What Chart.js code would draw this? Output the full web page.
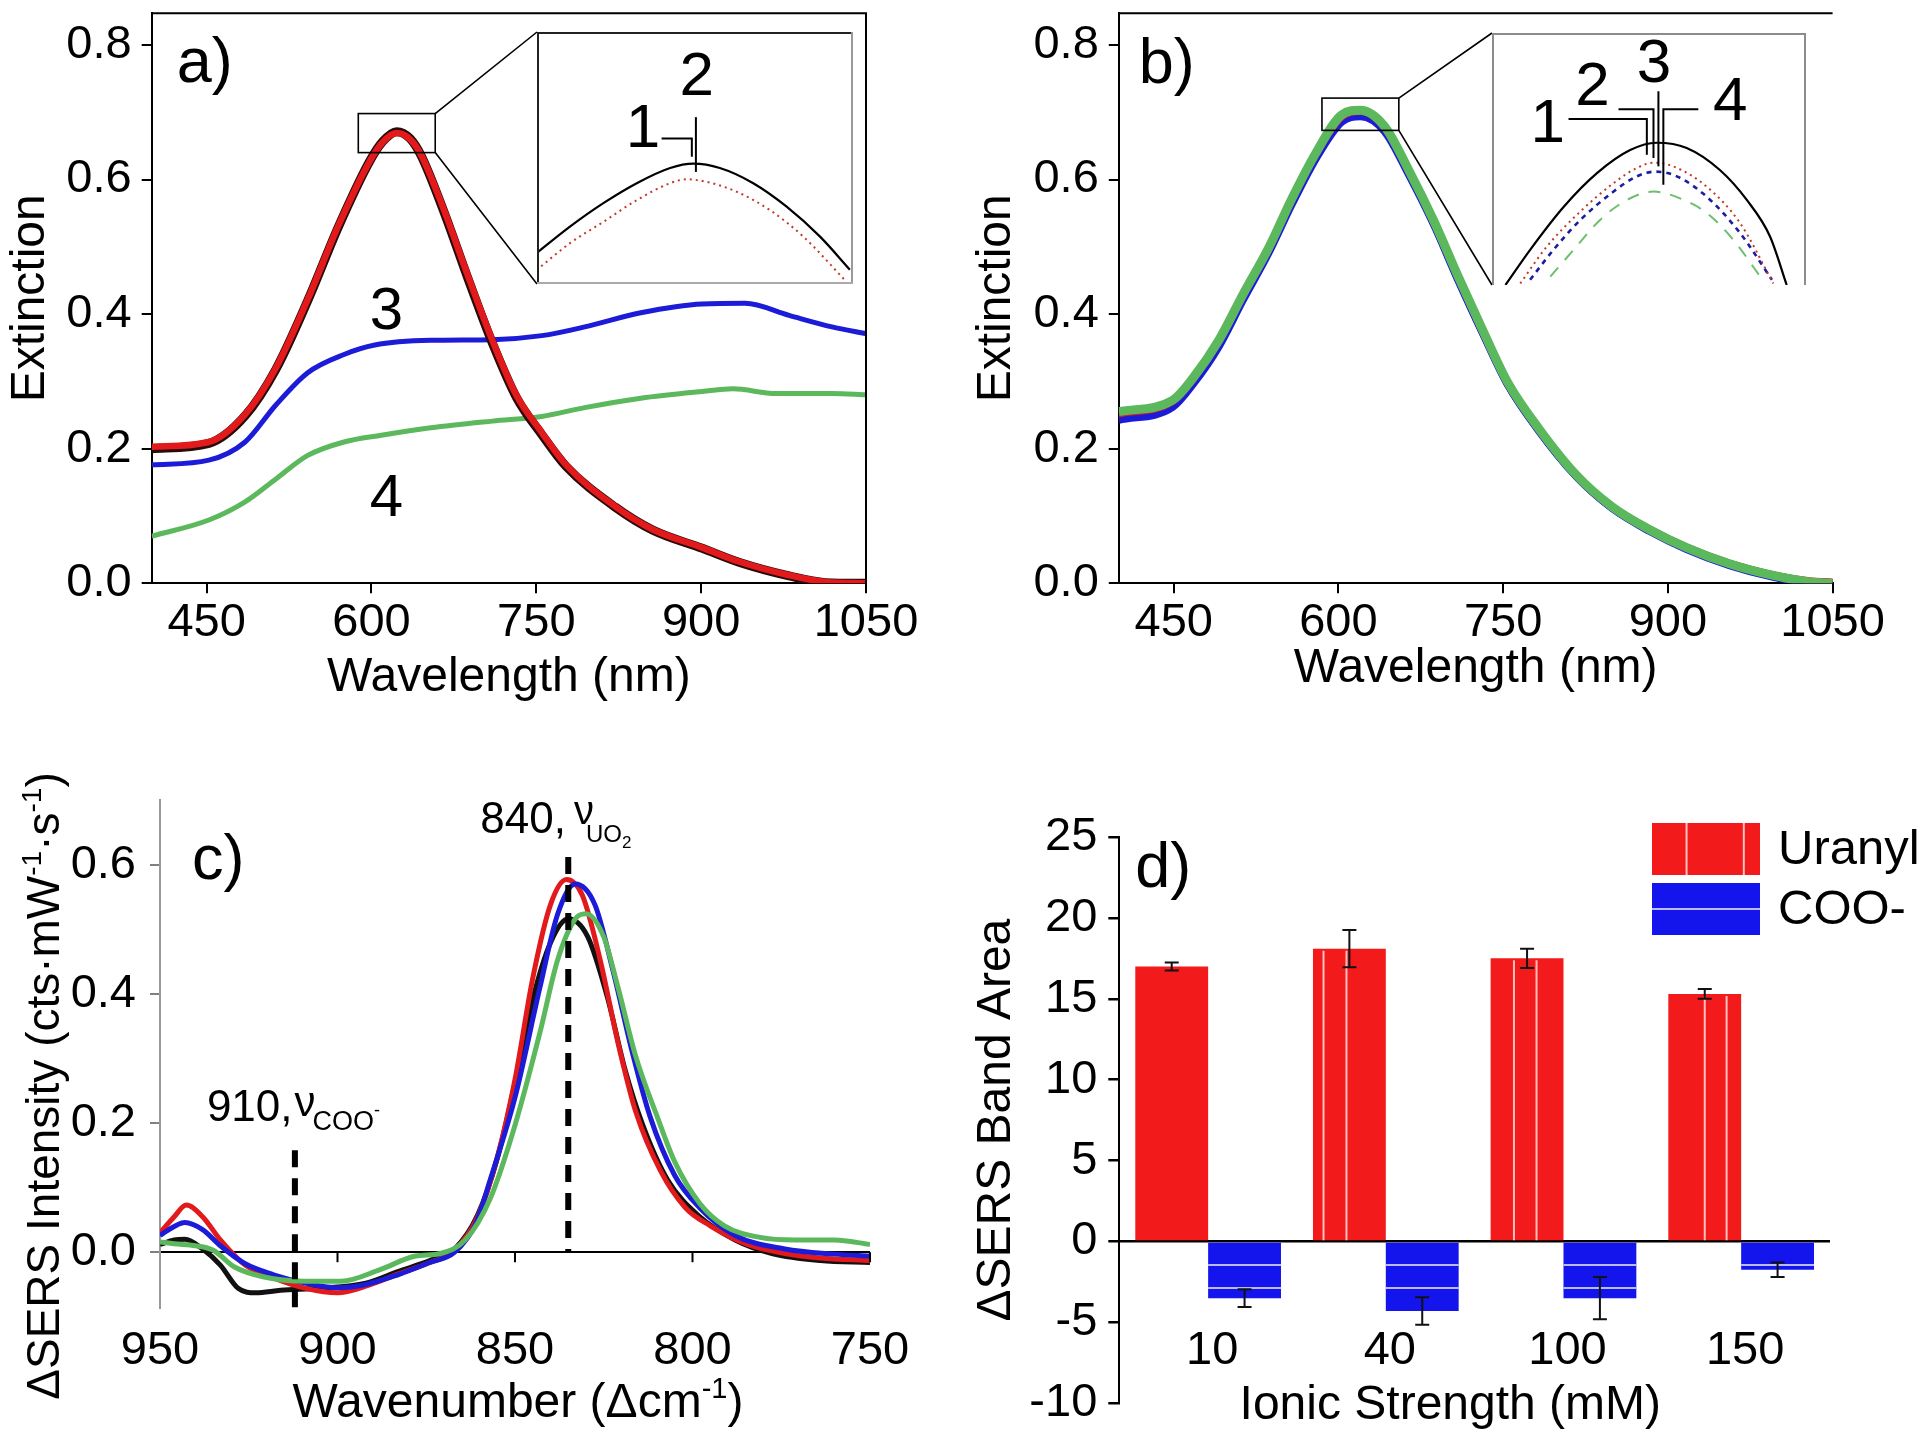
<!DOCTYPE html>
<html><head><meta charset="utf-8"><title>Extinction and SERS panels</title>
<script src="https://cdn.jsdelivr.net/npm/chart.js"></script>
<style>
html,body{margin:0;padding:0;background:#fff}
body{width:1920px;height:1442px;position:relative;overflow:hidden}
canvas{position:absolute;display:block}
</style></head><body>
<script>
// ================= DATA =================
// Panel a: extinction spectra (curves 1-4)
const waveA_12 = [400,452,485,513,542,570,598,610,623,635,645,665,688,710,732,755,777,822,856,901,935,980,1013,1050];
const extA_1 = [0.200,0.208,0.249,0.318,0.420,0.530,0.626,0.656,0.671,0.661,0.636,0.556,0.452,0.357,0.276,0.221,0.174,0.113,0.079,0.052,0.031,0.011,0.001,0.000];
const extA_2 = [0.203,0.210,0.251,0.320,0.422,0.532,0.626,0.655,0.669,0.660,0.637,0.559,0.456,0.361,0.279,0.224,0.176,0.114,0.080,0.053,0.032,0.012,0.002,0.000];
const waveA_3 = [400,452,485,513,542,575,603,654,710,755,794,845,901,940,980,1019,1050];
const extA_3 = [0.176,0.183,0.210,0.265,0.313,0.340,0.354,0.361,0.362,0.368,0.381,0.402,0.415,0.416,0.398,0.381,0.371];
const waveA_4 = [400,452,485,513,542,575,609,654,710,755,794,845,901,929,968,1019,1050];
const extA_4 = [0.070,0.094,0.121,0.155,0.190,0.210,0.220,0.231,0.241,0.248,0.261,0.275,0.285,0.289,0.282,0.282,0.280];
// Panel a inset (zoom of peak, curves 1 and 2)
const insetA_wave1 = [587.9,595.3,602.7,610.1,617.5,622.6,628.5,635.9,643.3,650.7,657.3];
const insetA_ext1 = [0.6471,0.6532,0.6586,0.6632,0.6667,0.6677,0.6667,0.6632,0.6578,0.6509,0.6433];
const insetA_wave2 = [587.9,595.3,602.7,610.1,617.5,621.2,625.6,632.3,639.6,647.0,656.2];
const insetA_ext2 = [0.6432,0.6494,0.6543,0.6593,0.6632,0.6641,0.6635,0.6612,0.6570,0.6509,0.6409];
const zoomA_wave = [588,658];
const zoomA_ext = [0.640,0.698];

// Panel b: extinction spectra (curves 1-4)
const waveB = [400,449,468,491,513,536,558,580,603,620,642,664,687,709,732,754,782,816,849,883,917,956,995,1029,1050];
const extB_1 = [0.250,0.268,0.302,0.357,0.425,0.494,0.569,0.637,0.691,0.699,0.675,0.610,0.535,0.453,0.371,0.297,0.229,0.161,0.113,0.080,0.053,0.029,0.012,0.002,0.000];
const extB_2 = [0.252,0.270,0.304,0.359,0.427,0.495,0.571,0.639,0.693,0.701,0.677,0.612,0.536,0.454,0.372,0.298,0.230,0.162,0.114,0.081,0.054,0.030,0.013,0.004,0.002];
const extB_3 = [0.243,0.262,0.297,0.352,0.421,0.490,0.565,0.633,0.686,0.694,0.672,0.608,0.533,0.451,0.370,0.296,0.228,0.160,0.112,0.078,0.051,0.027,0.010,0.001,0.000];
const extB_4 = [0.255,0.272,0.306,0.361,0.429,0.497,0.573,0.641,0.696,0.703,0.679,0.614,0.538,0.456,0.374,0.299,0.231,0.162,0.114,0.080,0.053,0.029,0.012,0.002,0.000];
// Panel b inset
const insetB_wave1 = [588.0,593.5,601.0,608.4,615.8,621.7,628.4,635.8,641.8,647.0,650.7];
const insetB_ext1 = [0.6730,0.6797,0.6879,0.6943,0.6987,0.7001,0.6991,0.6949,0.6892,0.6822,0.6730];
const insetB_wave2 = [591.3,597.2,604.7,612.1,617.3,621.0,625.4,632.9,640.3,647.7];
const insetB_ext2 = [0.6733,0.6803,0.6870,0.6924,0.6953,0.6963,0.6956,0.6917,0.6848,0.6733];
const insetB_wave3 = [593.5,598.7,604.7,612.1,617.3,621.4,626.2,632.9,640.3,647.4];
const insetB_ext3 = [0.6740,0.6797,0.6854,0.6908,0.6937,0.6946,0.6937,0.6898,0.6829,0.6740];
const insetB_wave4 = [598.0,603.2,609.1,615.1,621.0,626.9,632.9,638.8,644.8];
const insetB_ext4 = [0.6746,0.6797,0.6854,0.6892,0.6908,0.6895,0.6867,0.6816,0.6746];
const zoomB_wave = [585,655];
const zoomB_ext = [0.673,0.721];

// Panel c: difference SERS spectra
const waveC_1 = [950,946,943,938,933,928,923,916,905,892,883,874,867,860.5,855,850,845,840,835,829.5,824,819,814,807,798,788,777.6,764,750];
const intC_1 = [0.012,0.019,0.020,0.005,-0.020,-0.056,-0.063,-0.059,-0.056,-0.048,-0.030,-0.013,0.005,0.058,0.145,0.262,0.392,0.480,0.517,0.489,0.396,0.283,0.197,0.112,0.055,0.019,-0.002,-0.013,-0.016];
const waveC_2 = [950,946,942.6,938,933,926,917.5,909,900,891.6,883,874,867.4,860.5,855,850,845,840,835.5,831,826,821,816,809,802,795,784.5,774,764,750];
const intC_2 = [0.030,0.055,0.073,0.055,0.019,-0.020,-0.041,-0.056,-0.063,-0.052,-0.034,-0.016,0.001,0.055,0.147,0.268,0.425,0.539,0.578,0.553,0.453,0.325,0.218,0.126,0.069,0.041,0.012,-0.002,-0.009,-0.013];
const waveC_3 = [950,946,943,938,933,926,918,909,900,892,883,874,867,861,857,850,843,838,833,827.5,822.5,817,812,805,798,788,774,760,750];
const intC_3 = [0.026,0.040,0.046,0.035,0.010,-0.018,-0.035,-0.048,-0.055,-0.050,-0.035,-0.016,0.000,0.045,0.112,0.240,0.410,0.524,0.571,0.539,0.439,0.311,0.211,0.119,0.069,0.026,0.005,-0.003,-0.006];
const waveC_4 = [950,946,940,935,929,921,909,899,888,878,871,864,857,850,843,838,833,830,825,821,816,810,805,798,791,781,771,760,750];
const intC_4 = [0.016,0.013,0.010,0.003,-0.023,-0.038,-0.045,-0.045,-0.027,-0.006,-0.002,0.019,0.083,0.197,0.340,0.453,0.517,0.525,0.489,0.411,0.304,0.211,0.140,0.076,0.041,0.023,0.019,0.019,0.012];
const markerWave = [912, 835];
const markerTop = [0.158, 0.613];
const markerBottom = [-0.087, 0.0];

// Panel d: band areas
const ionicLabels = ['10','40','100','150'];
const uranylArea = [17.0, 18.1, 17.5, 15.3];
const uranylErr = [0.25, 1.15, 0.6, 0.3];
const cooArea = [-3.5, -4.3, -3.5, -1.75];
const cooErr = [0.55, 0.85, 1.3, 0.45];

// Tick labels
const extTicks = [0, 0.2, 0.4, 0.6, 0.8];
const waveTicks = [450, 600, 750, 900, 1050];
const wnTicks = [950, 900, 850, 800, 750];
const intTicks = [0, 0.2, 0.4, 0.6];
const areaTicks = [-10, -5, 0, 5, 10, 15, 20, 25];

// ================= LAYOUT / STYLE =================
const FONT = "'Liberation Sans', Arial, Helvetica, sans-serif";
Chart.defaults.font.family = FONT;
Chart.defaults.color = '#000';
const RED = '#e31a1c', BLUE = '#1c1cd8', GREEN = '#5cb85c', BLACK = '#111';
const PANEL = {a:{left:0,top:0,w:960,h:720}, b:{left:960,top:0,w:960,h:720}, c:{left:0,top:720,w:960,h:722}, d:{left:960,top:720,w:960,h:722}};
const INSET_A = {left:537, top:32, w:316, h:252};
const INSET_B = {left:1492, top:33, w:314, h:252};

function mkCanvas(box, z) {
  const c = document.createElement('canvas');
  c.width = box.w; c.height = box.h;
  c.style.left = box.left + 'px'; c.style.top = box.top + 'px';
  c.style.width = box.w + 'px'; c.style.height = box.h + 'px';
  c.style.zIndex = z;
  document.body.appendChild(c);
  return c;
}
function pts(xs, ys) { return xs.map((x, i) => ({x: x, y: ys[i]})); }
function lineDS(label, xs, ys, color, width, order, extra) {
  return Object.assign({label: label, data: pts(xs, ys), borderColor: color, backgroundColor: color,
    borderWidth: width, pointRadius: 0, fill: false, cubicInterpolationMode: 'monotone', order: order}, extra || {});
}
function ticksFrom(arr) { return function (scale) { scale.ticks = arr.map(v => ({value: v})); }; }
function fit(size, horiz) {
  return function (scale) {
    if (horiz) scale.height = size; else scale.width = size;
    scale.paddingTop = 0; scale.paddingBottom = 0; scale.paddingLeft = 0; scale.paddingRight = 0;
  };
}
function baseOpts(o) {
  return Object.assign({responsive: false, maintainAspectRatio: false, animation: false, devicePixelRatio: 1, events: [],
    plugins: {legend: {display: false}, tooltip: {enabled: false}}}, o);
}
function txt(ctx, s, x, y, size, align, base) {
  ctx.font = size + 'px ' + FONT; ctx.fillStyle = '#000';
  ctx.textAlign = align || 'left'; ctx.textBaseline = base || 'alphabetic';
  ctx.fillText(s, x, y);
}
function drawRich(ctx, parts, x, y, align) {
  let w = 0;
  parts.forEach(p => { ctx.font = p.size + 'px ' + FONT; p._w = ctx.measureText(p.t).width; w += p._w + (p.dx || 0); });
  let cx = align === 'center' ? x - w / 2 : x;
  ctx.textAlign = 'left'; ctx.textBaseline = 'alphabetic'; ctx.fillStyle = '#000';
  parts.forEach(p => { cx += (p.dx || 0); ctx.font = p.size + 'px ' + FONT; ctx.fillText(p.t, cx, y + (p.dy || 0)); cx += p._w; });
}
const axisX = (title, titlePad, ticksArr, height, min, max) => ({
  type: 'linear', min: min, max: max, afterBuildTicks: ticksFrom(ticksArr), afterFit: fit(height, true),
  border: {display: true, color: '#000', width: 2},
  grid: {drawOnChartArea: false, drawTicks: true, tickLength: 10, color: '#000', tickColor: '#000', lineWidth: 2},
  ticks: {font: {size: 47}, padding: 2, autoSkip: false, maxRotation: 0, color: '#000', callback: v => String(v)},
  title: {display: true, text: title, font: {size: 48}, color: '#000', padding: {top: 0, bottom: titlePad}}
});
const axisYExt = (titlePad) => ({
  min: 0, max: 0.847, afterBuildTicks: ticksFrom(extTicks), afterFit: fit(titlePad.width, false),
  border: {display: true, color: '#000', width: 2},
  grid: {drawOnChartArea: false, drawTicks: true, tickLength: 10, color: '#000', tickColor: '#000', lineWidth: 2},
  ticks: {font: {size: 47}, padding: 10, color: '#000', callback: v => Number(v).toFixed(1)},
  title: {display: true, text: 'Extinction', font: {size: 48}, color: '#000', padding: {top: titlePad.top, bottom: 0}}
});

// zoom rectangle + connector lines to the inset
function zoomDeco(chart, waveR, extR, inset, panel) {
  const {ctx, scales: {x, y}} = chart;
  const x1 = x.getPixelForValue(waveR[0]), x2 = x.getPixelForValue(waveR[1]);
  const y1 = y.getPixelForValue(extR[1]), y2 = y.getPixelForValue(extR[0]);
  const il = inset.left - panel.left, it = inset.top - panel.top, ib = it + inset.h;
  ctx.save(); ctx.strokeStyle = '#000'; ctx.lineWidth = 1.6;
  ctx.strokeRect(x1, y1, x2 - x1, y2 - y1);
  ctx.beginPath(); ctx.moveTo(x2, y1); ctx.lineTo(il, it); ctx.moveTo(x2, y2); ctx.lineTo(il, ib); ctx.stroke();
  ctx.restore();
}

// ================= PANEL a =================
const plugA = {id: 'decoA', afterDraw(chart) {
  const {ctx, chartArea: ca, scales: {x, y}} = chart;
  ctx.save(); ctx.strokeStyle = '#000'; ctx.lineWidth = 2;
  ctx.beginPath(); ctx.moveTo(ca.left, ca.top); ctx.lineTo(ca.right, ca.top); ctx.lineTo(ca.right, ca.bottom); ctx.stroke();
  txt(ctx, 'a)', ca.left + 25, ca.top + 69, 63);
  txt(ctx, '3', x.getPixelForValue(613.5), y.getPixelForValue(0.402), 60, 'center', 'middle');
  txt(ctx, '4', x.getPixelForValue(613.5), y.getPixelForValue(0.125), 60, 'center', 'middle');
  ctx.restore();
  zoomDeco(chart, zoomA_wave, zoomA_ext, INSET_A, PANEL.a);
}};
new Chart(mkCanvas(PANEL.a, 1), {
  type: 'line',
  data: {datasets: [
    lineDS('2', waveA_12, extA_2, RED, 6.5, 0),
    lineDS('1', waveA_12, extA_1, '#2a0a0a', 9, 1),
    lineDS('3', waveA_3, extA_3, BLUE, 5, 2),
    lineDS('4', waveA_4, extA_4, GREEN, 5, 3)
  ]},
  options: baseOpts({
    layout: {padding: {top: 13.3, right: 94, bottom: 0, left: 0}},
    scales: {x: axisX('Wavelength (nm)', 13, waveTicks, 136.7, 400, 1050), y: axisYExt({width: 151.7, top: 2})}
  }),
  plugins: [plugA]
});

// ================= PANEL b =================
const plugB = {id: 'decoB', afterDraw(chart) {
  const {ctx, chartArea: ca} = chart;
  ctx.save(); ctx.strokeStyle = '#000'; ctx.lineWidth = 2;
  ctx.beginPath(); ctx.moveTo(ca.left, ca.top); ctx.lineTo(ca.right, ca.top); ctx.stroke();
  txt(ctx, 'b)', ca.left + 20, ca.top + 70, 63);
  ctx.restore();
  zoomDeco(chart, zoomB_wave, zoomB_ext, INSET_B, PANEL.b);
}};
new Chart(mkCanvas(PANEL.b, 1), {
  type: 'line',
  data: {datasets: [
    lineDS('4', waveB, extB_4, GREEN, 9, 0),
    lineDS('2', waveB, extB_2, RED, 7, 1),
    lineDS('3', waveB, extB_3, BLUE, 8, 2),
    lineDS('1', waveB, extB_1, BLACK, 8, 3)
  ]},
  options: baseOpts({
    layout: {padding: {top: 13.3, right: 87.4, bottom: 0, left: 0}},
    scales: {x: axisX('Wavelength (nm)', 22, waveTicks, 136.7, 400, 1050), y: axisYExt({width: 158.8, top: 8})}
  }),
  plugins: [plugB]
});

// ================= INSETS =================
function insetPlugin(id, borders, leaders, labels) {
  return {id: id, afterDraw(chart) {
    const {ctx, chartArea: ca, scales: {x, y}} = chart;
    ctx.save(); ctx.lineWidth = 2;
    const edges = {top: [ca.left, ca.top + 1, ca.right, ca.top + 1], left: [ca.left + 1, ca.top, ca.left + 1, ca.bottom],
      right: [ca.right - 1, ca.top, ca.right - 1, ca.bottom], bottom: [ca.left, ca.bottom - 1, ca.right, ca.bottom - 1]};
    Object.keys(borders).forEach(k => { const e = edges[k]; ctx.strokeStyle = borders[k];
      ctx.beginPath(); ctx.moveTo(e[0], e[1]); ctx.lineTo(e[2], e[3]); ctx.stroke(); });
    ctx.strokeStyle = '#000'; ctx.lineWidth = 2;
    leaders.forEach(L => { ctx.beginPath(); L.forEach((p, i) => { const px = x.getPixelForValue(p[0]), py = y.getPixelForValue(p[1]);
      if (i === 0) ctx.moveTo(px, py); else ctx.lineTo(px, py); }); ctx.stroke(); });
    labels.forEach(l => txt(ctx, l.t, x.getPixelForValue(l.x), y.getPixelForValue(l.y), 62, 'center', 'middle'));
    ctx.restore();
  }};
}
function insetChart(box, datasets, xr, yr, plugin) {
  return new Chart(mkCanvas(box, 3), {
    type: 'line', data: {datasets: datasets},
    options: baseOpts({layout: {padding: 0}, scales: {x: {type: 'linear', display: false, min: xr[0], max: xr[1]}, y: {display: false, min: yr[0], max: yr[1]}}}),
    plugins: [plugin]
  });
}
insetChart(INSET_A, [
  lineDS('1', insetA_wave1, insetA_ext1, '#000', 2.2, 0, {clip: 0}),
  lineDS('2', insetA_wave2, insetA_ext2, '#c0392b', 2, 1, {clip: 0, borderDash: [2, 4]})
], zoomA_wave, zoomA_ext, insetPlugin('insA', {top: '#222', left: '#222', right: '#999', bottom: '#aaa'},
  [[[615.6, 0.6735], [622.3, 0.6735], [622.3, 0.6693]], [[623.2, 0.6784], [623.2, 0.6658]]],
  [{t: '1', x: 611.5, y: 0.6754}, {t: '2', x: 623.4, y: 0.6875}]));
insetChart(INSET_B, [
  lineDS('1', insetB_wave1, insetB_ext1, '#000', 2.2, 0, {clip: 0}),
  lineDS('2', insetB_wave2, insetB_ext2, '#c0392b', 2, 1, {clip: 0, borderDash: [2, 4]}),
  lineDS('3', insetB_wave3, insetB_ext3, '#1c1ca0', 2.6, 2, {clip: 0, borderDash: [5, 5]}),
  lineDS('4', insetB_wave4, insetB_ext4, '#6cbf6c', 2, 3, {clip: 0, borderDash: [12, 10]})
], zoomB_wave, zoomB_ext, insetPlugin('insB', {top: '#8c8c8c', left: '#8c8c8c', right: '#8c8c8c'},
  [[[602.06, 0.7046], [619.52, 0.7046], [619.52, 0.6978]], [[613.2, 0.7065], [621.0, 0.7065], [621.0, 0.6972]],
   [[622.1, 0.7099], [622.1, 0.6956]], [[631.0, 0.7065], [623.2, 0.7065], [623.2, 0.6921]]],
  [{t: '1', x: 597.4, y: 0.7035}, {t: '2', x: 607.4, y: 0.7105}, {t: '3', x: 621.1, y: 0.7150}, {t: '4', x: 638.1, y: 0.7077}]));

// ================= PANEL c =================
const plugC = {id: 'decoC', afterDraw(chart) {
  const {ctx, chartArea: ca, scales: {x, y}} = chart;
  ctx.save();
  const y0 = y.getPixelForValue(0);
  ctx.strokeStyle = '#000'; ctx.lineWidth = 2;
  wnTicks.forEach(v => { const px = x.getPixelForValue(v); if (px > ca.left + 2) { ctx.beginPath(); ctx.moveTo(px, y0); ctx.lineTo(px, y0 + 10); ctx.stroke(); } });
  ctx.lineWidth = 6; ctx.setLineDash([17, 11]);
  markerWave.forEach((w, i) => { const px = x.getPixelForValue(w);
    ctx.beginPath(); ctx.moveTo(px, y.getPixelForValue(markerTop[i])); ctx.lineTo(px, y.getPixelForValue(markerBottom[i])); ctx.stroke(); });
  ctx.setLineDash([]);
  const p910 = x.getPixelForValue(markerWave[0]), p840 = x.getPixelForValue(markerWave[1]);
  drawRich(ctx, [{t: '910,', size: 44}, {t: 'ν', size: 42, dy: -5, dx: 2}, {t: 'COO', size: 27, dy: 9, dx: -3}, {t: '-', size: 18, dy: -5, dx: 0}], p910 - 88, 401);
  drawRich(ctx, [{t: '840,', size: 44}, {t: 'ν', size: 40, dy: -9, dx: 8}, {t: 'UO', size: 24, dy: 9, dx: -8}, {t: '2', size: 17, dy: 15, dx: 0}], p840 - 88, 113);
  txt(ctx, 'c)', ca.left + 32, ca.top + 79, 63);
  // axis titles
  drawRich(ctx, [{t: 'Wavenumber (Δcm', size: 48}, {t: '-1', size: 29, dy: -19}, {t: ')', size: 48}], (ca.left + ca.right) / 2 + 3, 697, 'center');
  ctx.save(); ctx.translate(43, 366); ctx.rotate(-Math.PI / 2);
  drawRich(ctx, [{t: 'ΔSERS Intensity (cts·mW', size: 46}, {t: '-1', size: 28, dy: -18}, {t: '·s', size: 46}, {t: '-1', size: 28, dy: -18}, {t: ')', size: 46}], 0, 16, 'center');
  ctx.restore();
  ctx.restore();
}};
new Chart(mkCanvas(PANEL.c, 1), {
  type: 'line',
  data: {datasets: [
    lineDS('4', waveC_4, intC_4, GREEN, 5, 0),
    lineDS('3', waveC_3, intC_3, BLUE, 5, 1),
    lineDS('2', waveC_2, intC_2, RED, 5, 2),
    lineDS('1', waveC_1, intC_1, BLACK, 5, 3)
  ]},
  options: baseOpts({
    layout: {padding: {top: 79.5, right: 90, bottom: 0, left: 0}},
    scales: {
      x: {type: 'linear', reverse: true, min: 750, max: 950, afterBuildTicks: ticksFrom(wnTicks), afterFit: fit(133.7, true),
        border: {display: false}, grid: {display: false},
        ticks: {font: {size: 47}, padding: 7, autoSkip: false, maxRotation: 0, color: '#000', callback: v => String(v)}},
      y: {min: -0.087, max: 0.702, afterBuildTicks: ticksFrom(intTicks), afterFit: fit(160, false),
        border: {display: true, color: '#9a9a9a', width: 2},
        grid: {drawOnChartArea: true, drawTicks: true, tickLength: 10, lineWidth: 2, tickColor: '#808080',
          color: c => (c.tick && c.tick.value === 0) ? '#000' : 'rgba(0,0,0,0)'},
        ticks: {font: {size: 47}, padding: 14, color: '#000', callback: v => Number(v).toFixed(1)}}
    }
  }),
  plugins: [plugC]
});

// ================= PANEL d =================
const redStripeFrac = [[], [0.145, 0.46], [0.32, 0.63], [0.5, 0.8]];
const blueStripeVals = [-1.46, -2.87];
const plugD = {id: 'decoD',
  afterDatasetsDraw(chart) {
    const {ctx, scales: {y}} = chart;
    const mU = chart.getDatasetMeta(0), mC = chart.getDatasetMeta(1);
    ctx.save(); ctx.lineWidth = 2;
    ctx.strokeStyle = 'rgba(255,200,200,0.95)';
    mU.data.forEach((bar, i) => { const l = bar.x - bar.width / 2;
      (redStripeFrac[i] || []).forEach(f => { const sx = l + f * bar.width; ctx.beginPath(); ctx.moveTo(sx, bar.y + 2); ctx.lineTo(sx, bar.base); ctx.stroke(); }); });
    ctx.strokeStyle = 'rgba(195,195,255,0.95)';
    mC.data.forEach((bar, i) => blueStripeVals.forEach(v => { if (v > cooArea[i] + 0.2) { const py = y.getPixelForValue(v);
      ctx.beginPath(); ctx.moveTo(bar.x - bar.width / 2, py); ctx.lineTo(bar.x + bar.width / 2, py); ctx.stroke(); } }));
    ctx.strokeStyle = '#111'; ctx.lineWidth = 2;
    [[mU, uranylArea, uranylErr], [mC, cooArea, cooErr]].forEach(([m, vals, errs]) => m.data.forEach((bar, i) => {
      const yt = y.getPixelForValue(vals[i] + errs[i]), yb = y.getPixelForValue(vals[i] - errs[i]);
      ctx.beginPath(); ctx.moveTo(bar.x, yt); ctx.lineTo(bar.x, yb);
      ctx.moveTo(bar.x - 7, yt); ctx.lineTo(bar.x + 7, yt); ctx.moveTo(bar.x - 7, yb); ctx.lineTo(bar.x + 7, yb); ctx.stroke();
    }));
    ctx.restore();
  },
  afterDraw(chart) {
    const {ctx, chartArea: ca, scales: {x}} = chart;
    ctx.save();
    ionicLabels.forEach((l, i) => txt(ctx, l, x.getPixelForTick(i) + 4, ca.bottom - 52, 47, 'center', 'middle'));
    txt(ctx, 'Ionic Strength (mM)', ca.left + 331, ca.bottom + 2, 48, 'center', 'middle');
    txt(ctx, 'd)', ca.left + 16, ca.top + 50, 63);
    // legend
    const sw = [{y: 103, c: 0, v: true}, {y: 163, c: 1, v: false}];
    sw.forEach(s => {
      const ds = chart.data.datasets[s.c];
      ctx.fillStyle = ds.backgroundColor; ctx.fillRect(692, s.y, 108, 52);
      ctx.strokeStyle = s.v ? 'rgba(255,200,200,0.95)' : 'rgba(195,195,255,0.95)'; ctx.lineWidth = 2; ctx.beginPath();
      if (s.v) { [0.32, 0.85].forEach(f => { ctx.moveTo(692 + f * 108, s.y); ctx.lineTo(692 + f * 108, s.y + 52); }); }
      else { ctx.moveTo(692, s.y + 26); ctx.lineTo(800, s.y + 26); }
      ctx.stroke();
      txt(ctx, ds.label, 818, s.y + 27, 49, 'left', 'middle');
    });
    ctx.restore();
  }
};
new Chart(mkCanvas(PANEL.d, 1), {
  type: 'bar',
  data: {labels: ionicLabels, datasets: [
    {label: 'Uranyl', data: uranylArea, backgroundColor: '#f21a1a', borderWidth: 0, categoryPercentage: 0.82, barPercentage: 1.0},
    {label: 'COO-', data: cooArea, backgroundColor: '#1414ec', borderWidth: 0, categoryPercentage: 0.82, barPercentage: 1.0}
  ]},
  options: baseOpts({
    layout: {padding: {top: 117, right: 90, bottom: 38.7, left: 0}},
    scales: {
      x: {type: 'category', display: false},
      y: {min: -10, max: 25, afterBuildTicks: ticksFrom(areaTicks), afterFit: fit(159.3, false),
        border: {display: true, color: '#000', width: 2},
        grid: {drawOnChartArea: true, drawTicks: true, tickLength: 11, lineWidth: 2.5, tickColor: '#000',
          color: c => (c.tick && c.tick.value === 0) ? '#000' : 'rgba(0,0,0,0)'},
        ticks: {font: {size: 47}, padding: 11, color: '#000', callback: v => String(v)},
        title: {display: true, text: 'ΔSERS Band Area', font: {size: 48}, color: '#000', padding: {top: 8, bottom: 0}}}
    }
  }),
  plugins: [plugD]
});
</script>
</body></html>
